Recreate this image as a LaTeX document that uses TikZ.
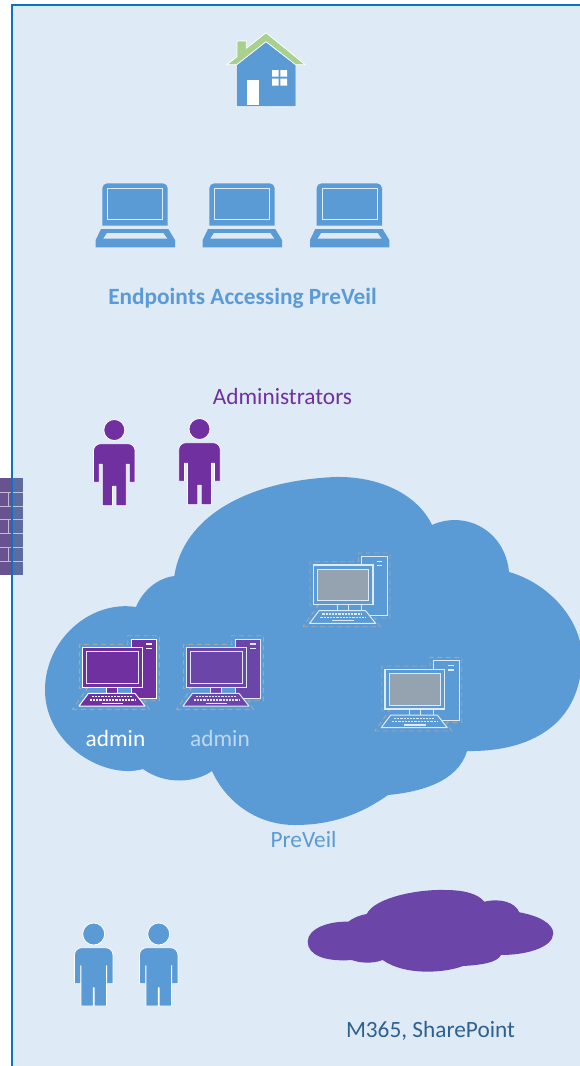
\documentclass[tikz,border=0pt]{standalone}
\usepackage{fontspec}
\setmainfont{Carlito}
\definecolor{bgblue}{HTML}{DEEAF6}
\definecolor{borderblue}{HTML}{0B72C4}
\definecolor{cloudblue}{HTML}{5B9BD5}
\definecolor{purpleA}{HTML}{7030A0}
\definecolor{purpleB}{HTML}{6B45A8}
\definecolor{roofgreen}{HTML}{A9D18E}
\definecolor{screengray}{HTML}{95A3B0}
\definecolor{dashgray}{HTML}{A5A5A5}
\definecolor{lightline}{HTML}{DEEAF6}
\definecolor{adminlight}{HTML}{BDD7EE}
\definecolor{msblue}{HTML}{2E6190}
\definecolor{wallL}{HTML}{695290}
\definecolor{wallR}{HTML}{5C6BA0}
\tikzset{
  labeltext/.style={inner sep=0pt,anchor=base,font=\fontsize{23.3}{28}\selectfont},
  pics/computer/.style n args={5}{code={
    \draw[dashgray,line width=.9pt,dash pattern=on 5pt off 3.5pt]
      (-10.3,61.7) -- (66.7,61.7) -- (61.3,53) -- (76.7,53) -- (76.7,-12) -- (45,-12) -- (45,-3.3)
      -- (-3.3,-3.3) -- (-3.3,40.7) -- (4.7,40.7) -- cycle;
    \draw[#4,line width=1pt,fill=#1] (48.3,-8.7) rectangle (74,50.7);
    \draw[#4,line width=1pt,fill=#2] (24,39.7) rectangle (35,45.7);
    \draw[#4,line width=1.3pt,fill=#2] (0,0) rectangle (59.7,39.7);
    \draw[#5,line width=1pt,fill=#3] (4,4) rectangle (55.6,35.7);
    \draw[#4,line width=1pt,fill=#2,line join=round] (5.7,45.7) -- (52.3,45.7) -- (62.3,58.3) -- (-3.7,58.3) -- cycle;
    \draw[#4,line width=1.5pt,dash pattern=on 2.2pt off 1pt] (9,49) -- (49,49);
    \draw[#4,line width=1.5pt,dash pattern=on 2.2pt off 1pt] (7,52.3) -- (52,52.3);
    \draw[#4,line width=1.4pt] (19,55.5) -- (40.7,55.5);
    \draw[#4,line width=1.4pt] (63.3,-3.7) -- (69,-3.7) (63.3,.7) -- (69,.7);
  }},
  pics/person/.style n args={9}{code={
    \draw[white,line width=.8pt,fill=#1] (0,0) circle[radius=#2];
    \draw[white,line width=.8pt,fill=#1,line join=round]
      (-#3,#4+7) arc[start angle=180,end angle=270,radius=7] -- (#3-7,#4)
      arc[start angle=270,end angle=360,radius=7] -- (#3,#5) -- (#6,#5) -- (#6,#5-18) -- (#7,#5-18) -- (#7,#8)
      -- (#9,#8) -- (#9,#5+4) -- (-#9,#5+4) -- (-#9,#8) -- (-#7,#8) -- (-#7,#5-18) -- (-#6,#5-18) -- (-#6,#5)
      -- (-#3,#5) -- cycle;
  }},
  pics/laptop/.style={code={
    \fill[cloudblue] (0,5) arc[start angle=180,end angle=270,radius=5] -- (60.4,0)
      arc[start angle=270,end angle=360,radius=5] -- (65.4,42.4) -- (0,42.4) -- cycle;
    \draw[lightline,line width=.9pt] (5.4,5.4) rectangle (60.4,36);
    \fill[cloudblue] (-1.3,45.7) -- (66,45.7) -- (72.7,56.7) -- (72.7,64) -- (-6.6,64) -- (-6.6,56.7) -- cycle;
    \fill[lightline] (4.7,49.7) -- (61,49.7) -- (65,55.4) -- (1,55.4) -- cycle;
  }}
}
\begin{document}
\begin{tikzpicture}[x=1pt,y=-1pt]
\clip (0,0) rectangle (580,1066);
\fill[white] (0,0) rectangle (580,1066);
% wall, left of the panel
\fill[wallL] (0,478) rectangle (12,575);
\draw[white,opacity=.6,line width=.7pt]
  (0,492) -- (12,492) (0,506) -- (12,506) (0,519.5) -- (12,519.5) (0,533) -- (12,533) (0,547) -- (12,547) (0,561) -- (12,561)
  (8,492) -- (8,506) (8,519.5) -- (8,533) (8,547) -- (8,561);
% panel
\fill[bgblue] (12,5) rectangle (590,1080);
% wall, over the panel
\fill[wallR] (12,478) rectangle (23,575);
\draw[white,opacity=.6,line width=.7pt]
  (12,492) -- (23,492) (12,506) -- (23,506) (12,519.5) -- (23,519.5) (12,533) -- (23,533) (12,547) -- (23,547) (12,561) -- (23,561);
\draw[borderblue,line width=2pt] (12,1080) -- (12,5) -- (590,5);
% house
\draw[white,line width=.8pt,fill=roofgreen,line join=round]
  (266,32.7) -- (305.3,64.7) -- (226.7,64.7) -- (237,56.7) -- (237,41) -- (246.3,41) -- (246.3,48.3) -- cycle;
\draw[white,line width=.8pt,fill=cloudblue,line join=round]
  (266,41.7) -- (296,65) -- (296,106.7) -- (236.3,106.7) -- (236.3,65) -- cycle;
\fill[white] (246.7,80.3) rectangle (259.3,105);
\fill[white] (272,70) rectangle (278.7,76.7) (280.3,70) rectangle (287,76.7)
  (272,78.7) rectangle (278.7,85.7) (280.3,78.7) rectangle (287,85.7);
% laptops
\pic (lap1) at (102.3,183.3) {laptop};
\pic (lap2) at (209.3,183.3) {laptop};
\pic (lap3) at (316.6,183.3) {laptop};
\node[labeltext,font=\fontsize{23.3}{28}\selectfont\bfseries,text=cloudblue] (endpoints) at (242.5,304) {Endpoints Accessing PreVeil};
\node[labeltext,text=purpleA] (admins) at (282.5,404) {Administrators};
% administrators
\pic (adm1) at (114.3,430) {person={purpleA}{10.5}{20.8}{13.7}{52.3}{15}{12}{75.7}{1.7}};
\pic (adm2) at (199.5,429) {person={purpleA}{10.5}{20.8}{13.7}{52.3}{15}{12}{75.7}{1.7}};
% main cloud
\fill[cloudblue] (174.3,576)
  .. controls (183,518) and (245,481) .. (335,477)
  .. controls (380,476) and (418,495) .. (432,525)
  .. controls (465,510) and (505,530) .. (509,572)
  .. controls (548,583) and (580,618) .. (582,655)
  .. controls (582,725) and (530,752) .. (467,751)
  .. controls (458,782) and (420,792) .. (388,795)
  .. controls (360,815) and (330,825) .. (295,825)
  .. controls (255,825) and (225,800) .. (212,771)
  .. controls (195,783) and (165,785) .. (143,769)
  .. controls (105,780) and (45,745) .. (45,690)
  .. controls (45,640) and (90,600) .. (136,607)
  .. controls (143,590) and (158,578) .. (174.3,576)
  -- cycle;
% computers
\pic (pc1) at (82.7,647.7) {computer={purpleA}{purpleA}{purpleA}{white}{lightline}};
\pic (pc2) at (186.7,647.7) {computer={purpleB}{purpleB}{purpleB}{lightline}{lightline}};
\pic (pc3) at (313.3,565) {computer={cloudblue}{cloudblue}{screengray}{lightline}{lightline}};
\pic (pc4) at (385,669.3) {computer={cloudblue}{cloudblue}{screengray}{lightline}{lightline}};
\node[labeltext,text=white] (admin1) at (115.5,746) {admin};
\node[labeltext,text=adminlight] (admin2) at (220,746) {admin};
\node[labeltext,text=cloudblue] (preveil) at (303.5,847) {PreVeil};
% users
\pic (usr1) at (93.7,934) {person={cloudblue}{11}{19.2}{13.7}{49.7}{13}{12.7}{72}{.5}};
\pic (usr2) at (158.7,934) {person={cloudblue}{11}{19.2}{13.7}{49.7}{13}{12.7}{72}{.5}};
% purple cloud
\fill[purpleB] (348.3,921.7)
  .. controls (353,918) and (360,915) .. (366.7,914)
  .. controls (375,897) and (420,889) .. (445,890)
  .. controls (465,890) and (478,894) .. (484.3,901.7)
  .. controls (500,898) and (515,902) .. (519.3,912.3)
  .. controls (540,916) and (553,924) .. (553.3,933.3)
  .. controls (553,948) and (525,955) .. (501,955)
  .. controls (497,963) and (480,965) .. (463,966)
  .. controls (445,973) and (405,976) .. (382.7,960)
  .. controls (372,964) and (360,963) .. (351.7,960)
  .. controls (325,962) and (307.7,955) .. (307.7,941.7)
  .. controls (307.7,928) and (330,921) .. (348.3,921.7)
  -- cycle;
\node[labeltext,text=msblue] (m365) at (430.5,1037) {M365, SharePoint};
\end{tikzpicture}
\end{document}
